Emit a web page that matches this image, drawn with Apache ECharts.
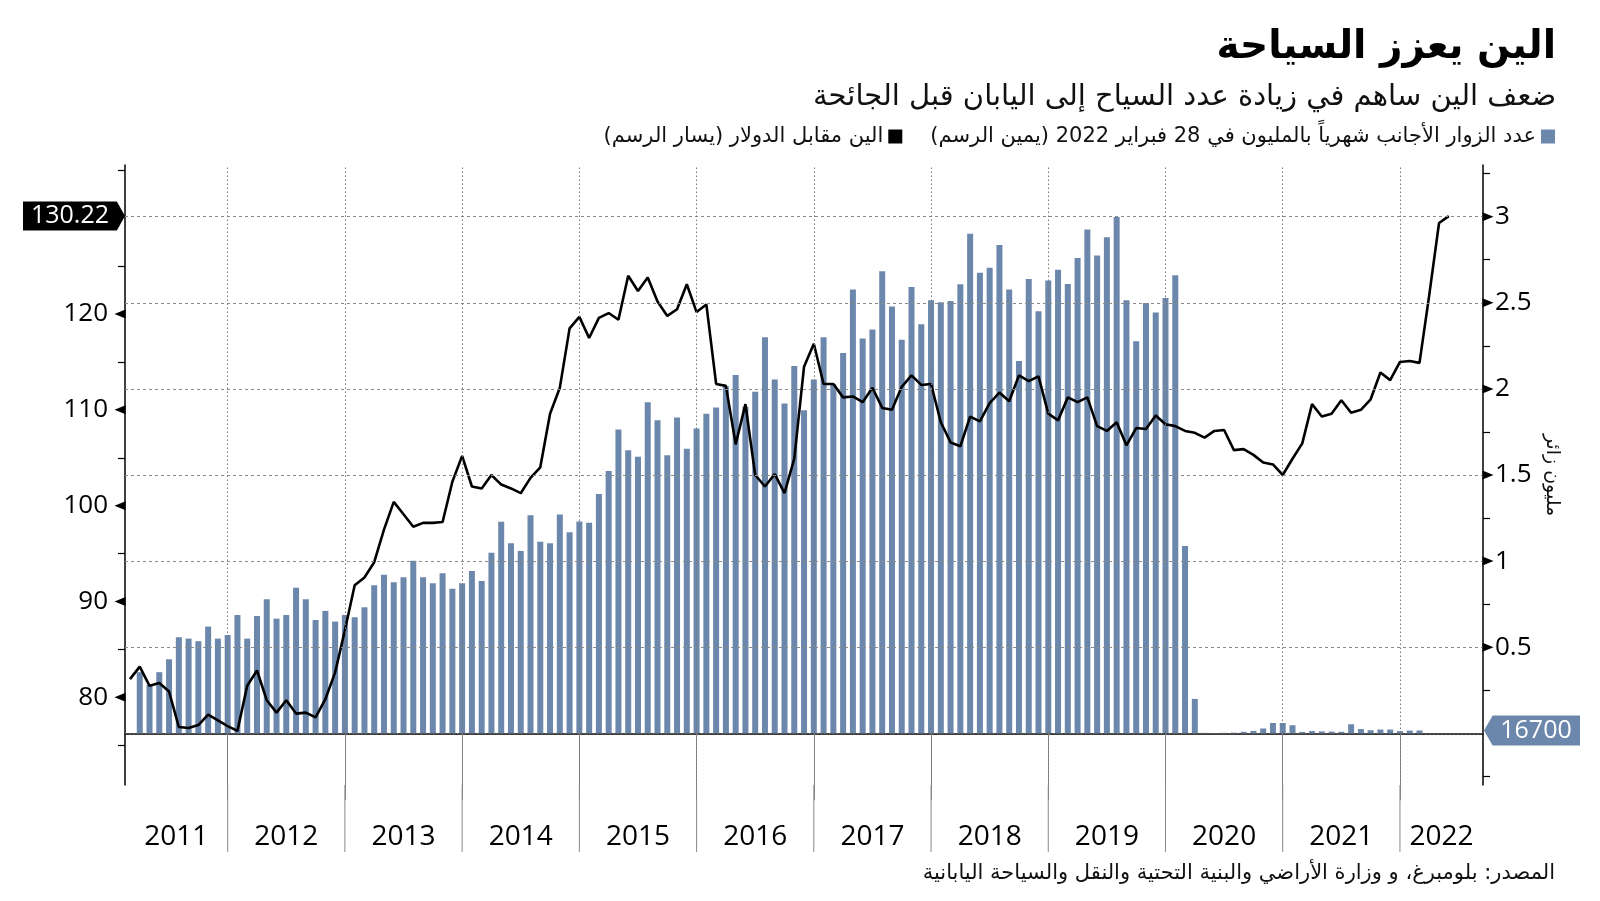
<!DOCTYPE html>
<html><head><meta charset="utf-8">
<script src="https://cdn.jsdelivr.net/npm/echarts@6/dist/echarts.min.js"></script>
<style>html,body{margin:0;padding:0;background:#fff}#chart{width:1600px;height:901px}</style>
</head><body><div id="chart" dir="rtl"></div>
<script>
// ---------------- data ----------------
const years = ['2011','2012','2013','2014','2015','2016','2017','2018','2019','2020','2021','2022'];

// Monthly foreign visitors to Japan, millions (first value = March 2011)
const visitorsStart = [2011, 3];
const visitors = [
  0.355,0.281,0.355,0.430,0.558,0.550,0.535,0.620,0.550,0.571,
  0.687,0.550,0.681,0.778,0.666,0.687,0.846,0.778,0.658,0.711,0.649,0.687,
  0.674,0.732,0.860,0.921,0.877,0.906,1.002,0.906,0.871,0.929,0.840,0.871,
  0.943,0.885,1.049,1.229,1.104,1.058,1.266,1.112,1.104,1.271,1.167,1.230,
  1.223,1.389,1.523,1.764,1.644,1.606,1.923,1.818,1.614,1.834,1.652,1.770,
  1.855,1.892,2.016,2.081,1.896,1.983,2.300,2.054,1.915,2.133,1.876,2.054,
  2.300,2.027,2.209,2.577,2.292,2.345,2.683,2.479,2.286,2.592,2.375,2.515,
  2.503,2.511,2.607,2.901,2.675,2.704,2.835,2.577,2.162,2.638,2.451,2.630,
  2.692,2.609,2.760,2.925,2.775,2.880,2.998,2.515,2.277,2.499,2.443,2.528,
  2.660,1.088,0.200,0.003,0.002,0.003,0.004,0.009,0.014,0.028,0.060,0.060,
  0.047,0.008,0.013,0.011,0.010,0.009,0.053,0.025,0.018,0.022,0.022,0.013,
  0.016,0.0167
];

// Yen per US dollar, month end (first value = February 2011)
const yenStart = [2011, 2];
const yen = [
  81.9,83.2,81.2,81.5,80.6,76.9,76.8,77.1,78.2,77.6,77.0,
  76.5,81.2,82.8,79.7,78.4,79.7,78.3,78.4,77.9,79.8,82.6,87.0,
  91.7,92.5,94.1,97.5,100.4,99.1,97.8,98.2,98.2,98.3,102.5,105.2,
  102.0,101.8,103.2,102.2,101.8,101.3,102.9,104.0,109.6,112.3,118.5,119.7,
  117.5,119.6,120.1,119.4,124.0,122.4,123.8,121.3,119.8,120.5,123.1,120.2,
  121.0,112.7,112.5,106.4,110.6,103.2,102.0,103.3,101.3,104.9,114.5,116.9,
  112.7,112.7,111.3,111.4,110.8,112.3,110.2,110.0,112.4,113.6,112.6,112.7,
  108.7,106.6,106.2,109.3,108.8,110.7,111.8,110.9,113.6,113.0,113.5,109.6,
  108.9,111.3,110.8,111.3,108.3,107.8,108.7,106.3,108.1,108.0,109.4,108.5,
  108.3,107.8,107.6,107.1,107.8,107.9,105.8,105.9,105.3,104.5,104.3,103.2,
  104.9,106.5,110.6,109.3,109.6,111.0,109.7,110.0,111.1,113.9,113.1,115.0,
  115.1,114.9,122.0,129.5,130.22
];

const leftTickLabels = [80, 90, 100, 110, 120];
const leftMinorTicks = [75, 85, 95, 105, 115, 125, 135];
const rightTickLabels = [0.5, 1, 1.5, 2, 2.5, 3];
const rightMinorTicks = [-0.25, 0.25, 0.75, 1.25, 1.75, 2.25, 2.75, 3.25];
const rightGridValues = [0, 0.5, 1, 1.5, 2, 2.5, 3];

const titleText = 'الين يعزز السياحة';
const subtitleText = 'ضعف الين ساهم في زيادة عدد السياح إلى اليابان قبل الجائحة';
const visitorsName = 'عدد الزوار الأجانب شهرياً بالمليون في 28 فبراير 2022 (يمين الرسم)';
const yenName = 'الين مقابل الدولار (يسار الرسم)';
const rightAxisName = 'مليون زائر';
const sourceText = 'المصدر: بلومبرغ، و وزارة الأراضي والبنية التحتية والنقل والسياحة اليابانية';

// ---------------- helpers ----------------
const monthIndex = (y, m) => (y - 2011) * 12 + m; // Jan 2011 = 1 (month-end positions)
const X_MIN = 1.49, X_MAX = 140.5;
const barData = visitors.map((v, i) => [monthIndex(visitorsStart[0], visitorsStart[1]) + i, v]);
const lineData = yen.map((v, i) => [monthIndex(yenStart[0], yenStart[1]) + i, v]);
const yearBounds = years.slice(1).map((y, i) => (i + 1) * 12);
const yearCenters = years.map((y, i) => {
  const lo = Math.max(X_MIN, i * 12), hi = Math.min(X_MAX, (i + 1) * 12);
  return (lo + hi) / 2;
});

const AR = "'DejaVu Sans', sans-serif";
const NUM = "'Open Sans', 'Noto Sans', sans-serif";
const BAR = '#6c87ac';
const SEP_LEN = 67;

const chart = echarts.init(document.getElementById('chart'), null, {renderer: 'canvas'});
chart.setOption({
  animation: false,
  backgroundColor: '#fff',
  title: [
    {
      text: titleText, right: 39, top: 18,
      textStyle: {fontFamily: AR, fontSize: 39, fontWeight: 'bold', color: '#000', lineHeight: 50}
    },
    {
      text: subtitleText, right: 39, top: 72,
      textStyle: {fontFamily: AR, fontSize: 29, fontWeight: 'normal', color: '#111', lineHeight: 40}
    },
    {
      text: sourceText, right: 40, bottom: 12,
      textStyle: {fontFamily: AR, fontSize: 21, fontWeight: 'normal', color: '#111'}
    }
  ],
  legend: {
    right: 40, top: 121, icon: 'rect', itemWidth: 14, itemHeight: 14, align: 'right', itemGap: 28,
    textStyle: {fontFamily: AR, fontSize: 21, color: '#111'},
    data: [{name: yenName}, {name: visitorsName}]
  },
  grid: {left: 125, right: 117, top: 165, bottom: 116, containLabel: false},
  xAxis: {
    type: 'value', min: X_MIN, max: X_MAX,
    axisLine: {show: true, lineStyle: {color: '#000', width: 1.5}},
    axisTick: {show: true, customValues: yearBounds, length: SEP_LEN, lineStyle: {color: '#888', width: 1}},
    axisLabel: {
      customValues: yearCenters, margin: 38, fontFamily: NUM, fontSize: 28, color: '#000',
      formatter: v => { const i = yearCenters.findIndex(c => Math.abs(c - v) < 1e-6); return i >= 0 ? years[i] : ''; }
    },
    splitLine: {show: false}
  },
  yAxis: [
    {
      type: 'value', position: 'left', min: 70.85, max: 135.55,
      axisLine: {show: true, lineStyle: {color: '#000', width: 1.5}},
      axisTick: {show: true, customValues: leftMinorTicks, length: 7, lineStyle: {color: '#000', width: 1.2}},
      axisLabel: {customValues: leftTickLabels, margin: 17, fontFamily: NUM, fontSize: 26, color: '#000'},
      splitLine: {show: false}
    },
    {
      type: 'value', position: 'right', min: -0.3, max: 3.3,
      axisLine: {show: true, lineStyle: {color: '#000', width: 1.5}},
      axisTick: {show: true, customValues: rightMinorTicks, length: 7, lineStyle: {color: '#000', width: 1.2}},
      axisLabel: {customValues: rightTickLabels, margin: 12, fontFamily: NUM, fontSize: 26, color: '#000'},
      splitLine: {show: false},
      name: rightAxisName, nameLocation: 'middle', nameRotate: -90, nameGap: 42,
      nameTextStyle: {fontFamily: AR, fontSize: 19, color: '#111'}
    }
  ],
  series: [
    {
      name: 'gridlines', type: 'line', yAxisIndex: 1, data: [], z: 1, silent: true,
      markLine: {
        silent: true, symbol: ['none', 'none'], label: {show: false}, animation: false,
        data: rightGridValues.map(v => ({yAxis: v, lineStyle: {color: v === 0 ? '#666' : '#8a8a8a', width: 1, type: v === 0 ? [1.5, 2.5] : [3, 3]}}))
          .concat(yearBounds.map(v => ({xAxis: v, lineStyle: {color: '#777', width: 1, type: [1.5, 2.5]}})))
      }
    },
    {
      name: 'yearSeparators', type: 'custom', yAxisIndex: 1, clip: false, silent: true, z: 1,
      data: yearBounds.map(v => [v, 0]),
      renderItem: (params, api) => {
        const x = api.coord([api.value(0), 0])[0];
        const yb = params.coordSys.y + params.coordSys.height;
        return {type: 'line', shape: {x1: x, y1: yb, x2: x, y2: yb + SEP_LEN},
          style: {stroke: '#888', lineWidth: 1}};
      }
    },
    {
      name: visitorsName, type: 'bar', yAxisIndex: 1, data: barData, barWidth: 6, z: 2,
      itemStyle: {color: BAR}
    },
    {
      name: yenName, type: 'line', yAxisIndex: 0, data: lineData, z: 3,
      symbol: 'none', lineStyle: {color: '#000', width: 2.6}, itemStyle: {color: '#000'}
    },
    {
      name: 'leftMarks', type: 'line', yAxisIndex: 0, data: [], z: 5,
      markPoint: {
        silent: true, animation: false,
        data: leftTickLabels.map(v => ({
          coord: [X_MIN, v], symbol: 'triangle', symbolSize: [9, 11], symbolRotate: 90,
          symbolOffset: [-5, 0], itemStyle: {color: '#000'}, label: {show: false}
        })).concat([{
          coord: [X_MIN, yen[yen.length - 1]],
          symbol: 'path://M0,0 L92,0 L100,14 L92,28 L0,28 Z', symbolKeepAspect: false,
          symbolSize: [102, 29], symbolOffset: [-51, 0], itemStyle: {color: '#000'},
          label: {show: true, position: 'inside', offset: [-4, 0], color: '#fff', fontFamily: NUM, fontSize: 25,
            formatter: () => yen[yen.length - 1].toFixed(2)}
        }])
      }
    },
    {
      name: 'rightMarks', type: 'line', yAxisIndex: 1, data: [], z: 5,
      markPoint: {
        silent: true, animation: false,
        data: rightTickLabels.map(v => ({
          coord: [X_MAX, v], symbol: 'triangle', symbolSize: [9, 11], symbolRotate: -90,
          symbolOffset: [5, 0], itemStyle: {color: '#000'}, label: {show: false}
        })).concat([{
          coord: [X_MAX, visitors[visitors.length - 1]],
          symbol: 'path://M0,14 L9,0 L100,0 L100,28 L9,28 Z', symbolKeepAspect: false,
          symbolSize: [96, 30], symbolOffset: [49, 0], itemStyle: {color: BAR},
          label: {show: true, position: 'inside', offset: [4, 0], color: '#fff', fontFamily: NUM, fontSize: 25,
            formatter: () => String(Math.round(visitors[visitors.length - 1] * 1e6))}
        }])
      }
    }
  ]
});
</script></body></html>
